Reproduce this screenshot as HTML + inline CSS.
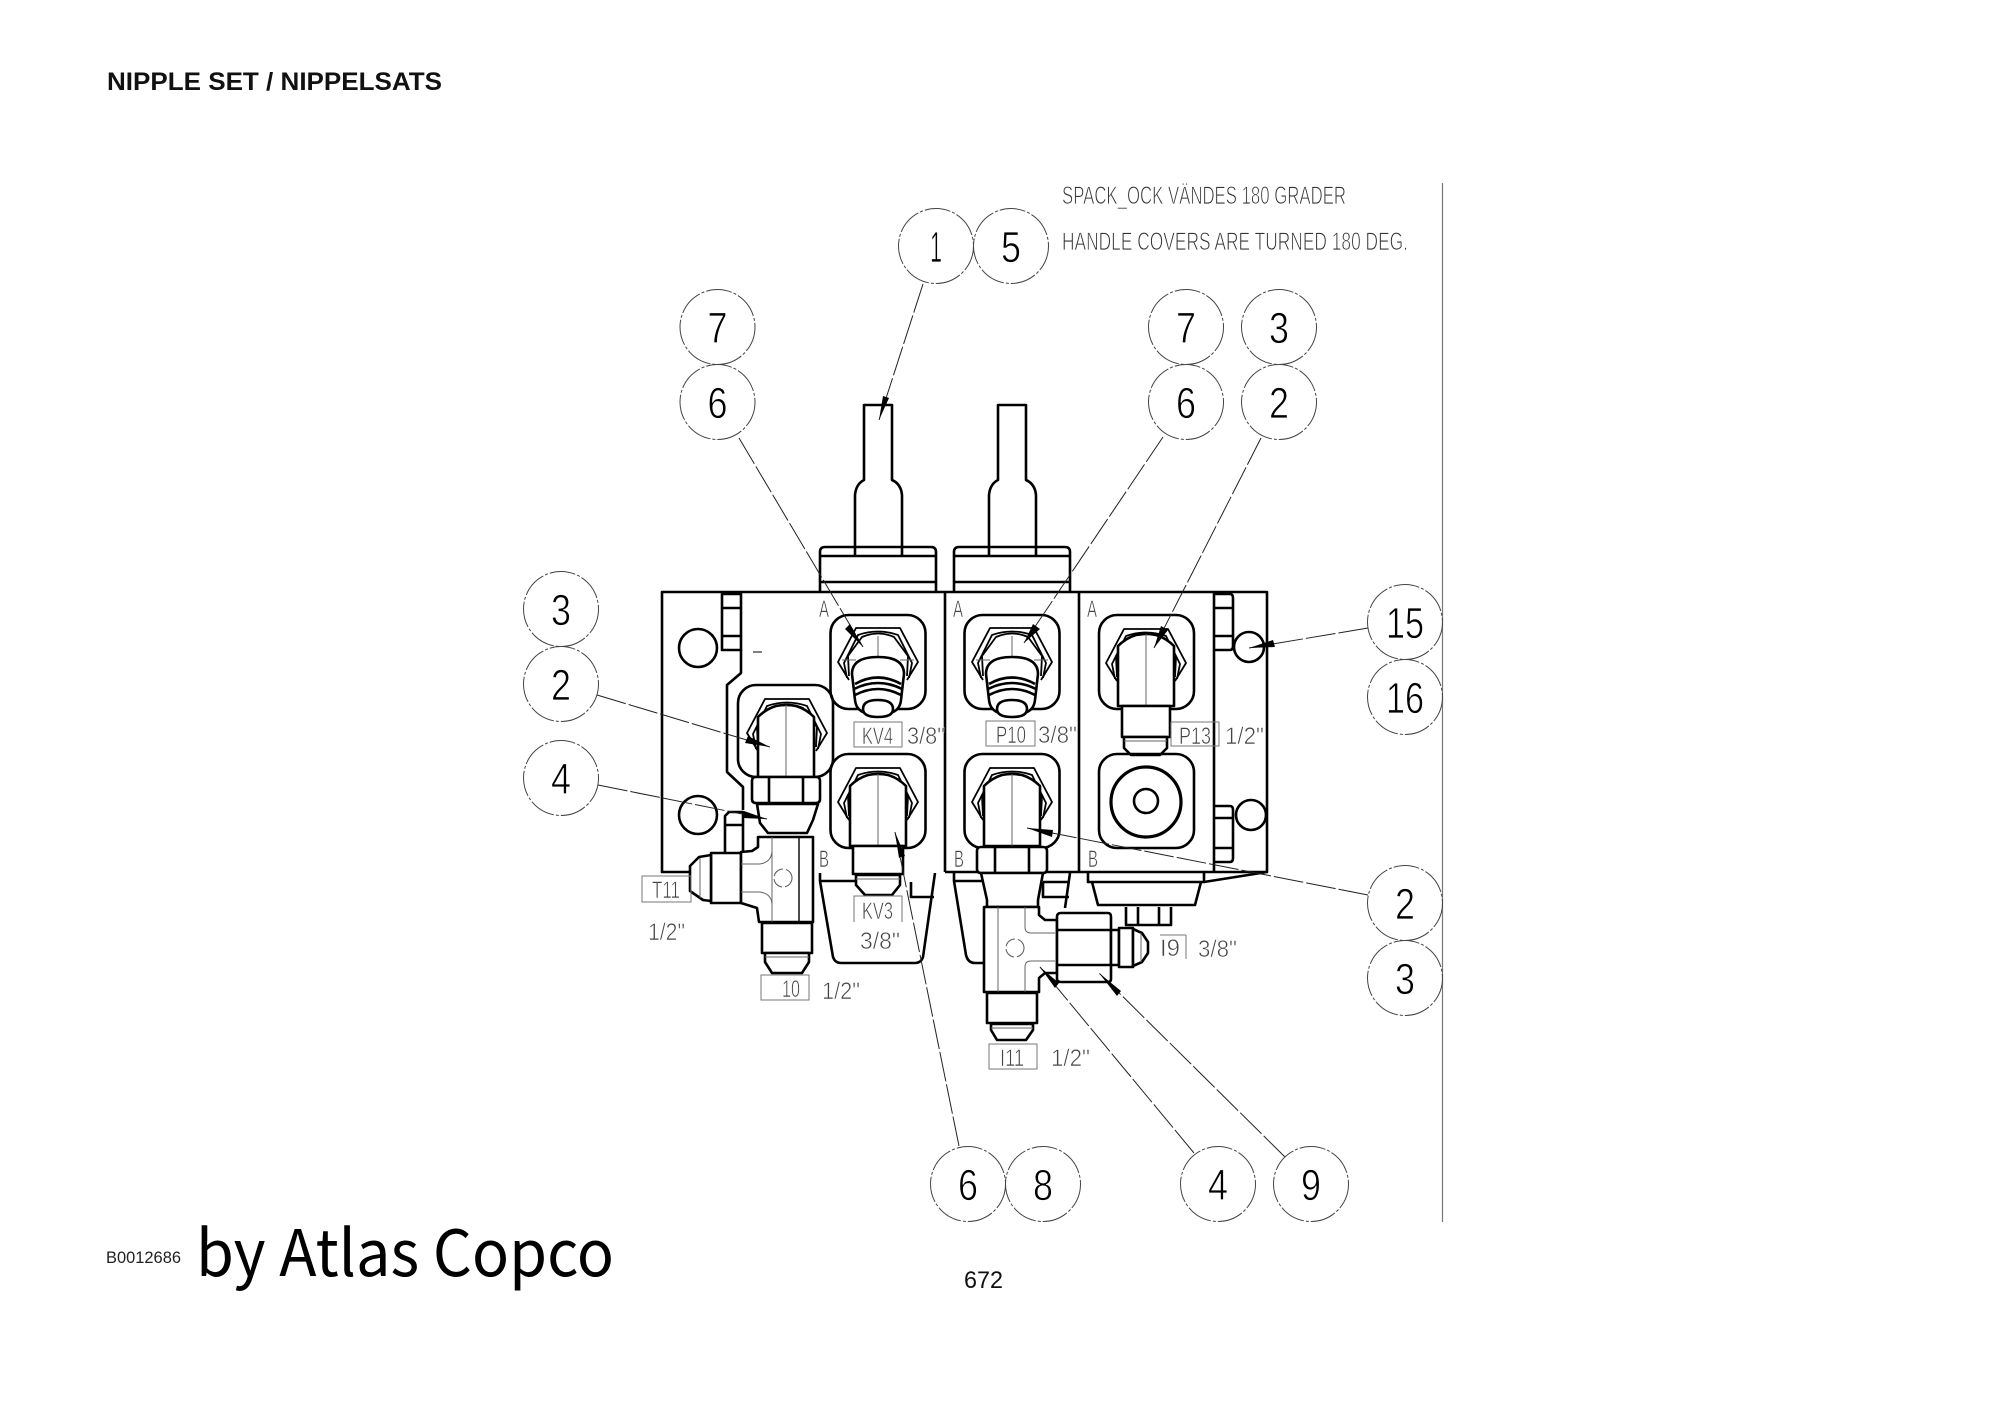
<!DOCTYPE html>
<html><head><meta charset="utf-8"><title>Nipple set</title>
<style>
html,body{margin:0;padding:0;background:#fff;width:2000px;height:1414px;overflow:hidden}
svg{display:block}
.o{fill:none;stroke:#000;stroke-width:2.6;stroke-linejoin:round}
.w{fill:#fff;stroke:#000;stroke-width:2.6;stroke-linejoin:round}
.h{fill:none;stroke:#000;stroke-width:1.8;stroke-linejoin:round}
.g{fill:none;stroke:#666;stroke-width:1}
.b{fill:none;stroke:#444;stroke-width:1;stroke-dasharray:26 2 3 2}
.l{fill:none;stroke:#222;stroke-width:1;stroke-dasharray:30 3}
.n{font:44px "Liberation Sans",sans-serif;fill:#000;stroke:#fff;stroke-width:.8;text-anchor:middle}
.c{font:25px "Liberation Sans",sans-serif;fill:#333;stroke:#fff;stroke-width:.8}
.t{font:24px "Liberation Sans",sans-serif;fill:#444;stroke:#fff;stroke-width:.6}
.box{fill:none;stroke:#777;stroke-width:1}
</style></head><body>
<svg width="2000" height="1414" viewBox="0 0 2000 1414" xmlns="http://www.w3.org/2000/svg">
<defs>
<g id="pocket"><rect x="-47.5" y="-47" width="95" height="94" rx="18" class="o"/></g>
<g id="hex">
<path class="h" d="M-29,18 L-40,0 L-22,-34 H22 L40,0 L29,18"/>
<path class="h" d="M-31,16 L-34,1 L-20,-27 Q0,-34 20,-27 L34,1 L31,16"/>
<path class="h" d="M-29,14 L-30,-6 L-16,-25 Q0,-32 16,-25 L30,-6 L29,14"/>
</g>
<g id="plug">
<path class="g" d="M0,-26 V-5 M-36,-2 H-22 M22,-2 H36"/>
<path class="w" d="M-26,12 Q-26,-5 0,-5 Q26,-5 26,12 L23,38 Q22,47 15,50 H-15 Q-22,47 -23,38 Z"/>
<path class="o" d="M-23,22 Q0,9 23,22 M-24,27 Q0,15 24,27 M-23,33 Q0,21 23,33"/>
<path class="w" d="M-15,47 Q-15,55 0,55 Q15,55 15,47 Q15,38 0,38 Q-15,38 -15,47 Z"/>
</g>
<g id="body"><path class="w" d="M-28,46 V-14 Q-20,-22 -10,-25 Q0,-27 10,-25 Q20,-22 28,-14 V46 Z"/><path class="g" d="M0,-26 V46"/></g>
</defs>
<rect width="2000" height="1414" fill="#fff"/>

<!-- title -->
<text x="107" y="90" font-family="'Liberation Sans',sans-serif" font-weight="700" font-size="25" fill="#111" textLength="335" lengthAdjust="spacingAndGlyphs">NIPPLE SET / NIPPELSATS</text>
<text x="106" y="1263" font-family="'Liberation Sans',sans-serif" font-size="17" fill="#222" textLength="75" lengthAdjust="spacingAndGlyphs">B0012686</text>
<text x="196" y="1276" font-family="'Noto Sans CJK JP','DejaVu Sans',sans-serif" font-size="64" fill="#000" textLength="418" lengthAdjust="spacingAndGlyphs">by Atlas Copco</text>
<text x="964" y="1288" font-family="'Liberation Sans',sans-serif" font-size="24" fill="#111" textLength="39" lengthAdjust="spacingAndGlyphs">672</text>

<!-- notes -->
<text class="c" x="1062" y="204" textLength="284" lengthAdjust="spacingAndGlyphs">SPACK_OCK VÄNDES 180 GRADER</text>
<text class="c" x="1062" y="250" textLength="346" lengthAdjust="spacingAndGlyphs">HANDLE COVERS ARE TURNED 180 DEG.</text>
<path d="M1442.5,183 V1222" stroke="#777" stroke-width="1.2" fill="none"/>

<!-- handles -->
<path class="o" d="M820,592 V552 Q820,547 825,547 H931 Q936,547 936,552 V592 M820,556 H936 M820,582 H936"/>
<path class="o" d="M954,592 V552 Q954,547 959,547 H1065 Q1070,547 1070,552 V592 M954,556 H1070 M954,582 H1070"/>
<path class="o" d="M855,556 V495 Q856,484 864,480 V405 H892 V480 Q901,484 902,495 V556"/>
<path class="o" d="M989,556 V495 Q990,484 998,480 V405 H1026 V480 Q1035,484 1036,495 V556"/>

<!-- lower covers -->
<path class="o" d="M820,873 V881 L833,957 Q835,963 841,963 H915 Q921,963 923,957 L935,873 M820,881 H855 M911,882 V897 H934"/>
<path class="o" d="M954,873 V881 L966,955 Q968,963 975,963 H984 M954,881 H985 M1070,873 L1065,908 M1043,882 V897 H1069 M1043,882 H1070"/>
<path class="o" d="M1088,873 V882 H1204 V873"/>
<path class="o" d="M1092,882 L1098,905 H1195 L1201,882"/>
<path class="o" d="M1126,907 V925 H1171 V907 M1138,907 V925 M1159,907 V925"/>
<path class="o" d="M1204,882 L1267,872"/>

<!-- main block -->
<path class="o" d="M741,872 H662 V592 H1267 V872 H1214 M945,592 V872 M1079,592 V872 M1214,592 V872 M945,872 H1214"/>
<circle class="o" cx="698" cy="648" r="19"/>
<circle class="o" cx="698" cy="815" r="19"/>
<circle class="o" cx="1249" cy="647" r="15"/>
<circle class="o" cx="1251" cy="815" r="15"/>
<path class="o" d="M722,594 H741 V650 H722 Z M722,608 H741 M722,636 H741"/>
<path class="o" d="M725,852 V816 L729,812 H743 V852 M725,825 H743"/>
<path class="o" d="M1214,594 H1230 Q1233,594 1233,598 V646 Q1233,650 1230,650 H1214 M1214,608 H1233 M1214,636 H1233"/>
<path class="o" d="M1214,806 H1230 Q1233,806 1233,810 V858 Q1233,862 1230,862 H1214 M1214,818 H1233 M1214,848 H1233"/>
<path class="o" d="M741,650 V673 L727,685 V772 L743,787 V810"/>
<path d="M753,652 H762" stroke="#555" stroke-width="1.5"/>

<!-- ports upper row -->
<use href="#pocket" x="878" y="662"/>
<use href="#pocket" x="1012" y="662"/>
<use href="#pocket" x="1146.5" y="662"/>
<use href="#hex" x="878" y="662"/>
<use href="#hex" x="1012" y="662"/>
<use href="#hex" x="1146" y="663"/>
<use href="#plug" x="878" y="662"/>
<use href="#plug" x="1012" y="662"/>
<use href="#body" x="1146" y="660"/>
<path class="w" d="M1122,706 H1170 V737 H1122 Z"/>
<path class="w" d="M1124,737 H1167 V748 L1160,755 H1131 L1124,748 Z"/>
<path class="g" d="M1124,741 H1167"/>

<!-- ports lower row -->
<use href="#pocket" x="878" y="801"/>
<use href="#pocket" x="1012" y="801"/>
<use href="#pocket" x="1146.5" y="801"/>
<circle cx="1146" cy="802" r="35" fill="none" stroke="#000" stroke-width="3.2"/>
<circle class="o" cx="1146" cy="801" r="12"/>
<use href="#hex" x="878" y="802"/>
<use href="#hex" x="1012" y="802"/>
<use href="#body" x="878" y="800"/>
<use href="#body" x="1012" y="800"/>
<path class="w" d="M853,846 H903 V874 H853 Z"/>
<path class="w" d="M856,875 H900 V885 L892,895 H865 L856,885 Z"/>
<path class="g" d="M856,879 H900"/>

<!-- left fitting stack -->
<rect x="738" y="685" width="95" height="92" rx="18" class="o"/>
<use href="#hex" x="787" y="733"/>
<use href="#body" x="786" y="731"/>
<path class="w" d="M752,781 Q752,777 756,777 H816 Q820,777 820,781 V799 Q820,803 816,803 H756 Q752,803 752,799 Z M769,777 V803 M803,777 V803"/>
<path class="w" d="M757,804 H818 L813,820 L807,833 H768 L760,823 Z"/>
<path class="w" d="M711,853 H741 V903 H711 Z"/>
<path class="w" d="M711,855 L699,857 L690,866 V891 L703,900 L711,901 Z"/>
<path class="g" d="M700,858 V898"/>
<path class="w" d="M758,837 V847 L752,851 L741,852 V903 L757,908 L759,922 H813 V837 Z"/>
<path class="g" d="M772,837 V922 M741,864 H760 Q772,862 772,850 M741,892 H760 Q772,894 772,905"/>
<path d="M799,837 V922" stroke="#000" stroke-width="1.4"/>
<circle cx="783" cy="878" r="9" fill="none" stroke="#555" stroke-width="1" stroke-dasharray="12 3"/>
<path class="w" d="M762,923 H812 V953 H762 Z"/>
<path class="w" d="M765,953 H809 V962 L802,973 H772 L765,962 Z"/>
<path class="g" d="M765,957 H809"/>

<!-- centre fitting stack -->
<path class="w" d="M977,851 Q977,847 981,847 H1043 Q1047,847 1047,851 V869 Q1047,873 1043,873 H981 Q977,873 977,869 Z M995,847 V873 M1029,847 V873"/>
<path class="w" d="M981,873 H1043 L1038,900 V907 H987 V900 Z"/>
<path class="w" d="M984,907 H1039 V915 L1045,920 H1057 V973 H1045 L1039,978 V992 H984 Z"/>
<path class="g" d="M998,907 V992 M1025,907 V927 Q1025,933 1031,933 H1055 M1055,961 H1031 Q1025,961 1025,967 V992"/>
<circle cx="1015" cy="948" r="9" fill="none" stroke="#555" stroke-width="1" stroke-dasharray="12 3"/>
<path class="w" d="M1057,917 Q1057,913 1061,913 H1108 Q1111,913 1111,917 V979 Q1111,982 1108,982 H1061 Q1057,982 1057,979 Z M1057,930 H1111 M1057,965 H1111"/>
<path class="w" d="M1111,930 H1119 V965 H1111 Z"/>
<path class="w" d="M1119,928 H1133 V967 H1119 Z"/>
<path class="w" d="M1133,929 L1142,933 L1148,942 V953 L1142,962 L1133,966 Z"/>
<path class="g" d="M1141,933 V962"/>
<path class="w" d="M987,993 H1037 V1023 H987 Z"/>
<path class="w" d="M991,1024 H1033 V1030 L1026,1040 H997 L991,1030 Z"/>
<path class="g" d="M991,1028 H1033"/>

<!-- labels -->
<text class="t" x="819" y="617" textLength="10" lengthAdjust="spacingAndGlyphs">A</text>
<text class="t" x="953" y="617" textLength="10" lengthAdjust="spacingAndGlyphs">A</text>
<text class="t" x="1087" y="617" textLength="10" lengthAdjust="spacingAndGlyphs">A</text>
<text class="t" x="819" y="867" textLength="10" lengthAdjust="spacingAndGlyphs">B</text>
<text class="t" x="954" y="867" textLength="10" lengthAdjust="spacingAndGlyphs">B</text>
<text class="t" x="1088" y="867" textLength="10" lengthAdjust="spacingAndGlyphs">B</text>

<rect class="box" x="854" y="722" width="48" height="25"/>
<text class="t" x="862" y="744" textLength="31" lengthAdjust="spacingAndGlyphs">KV4</text>
<text class="t" x="907" y="744" textLength="38" lengthAdjust="spacingAndGlyphs">3/8"</text>
<rect class="box" x="986" y="721" width="49" height="25"/>
<text class="t" x="996" y="743" textLength="30" lengthAdjust="spacingAndGlyphs">P10</text>
<text class="t" x="1038" y="743" textLength="39" lengthAdjust="spacingAndGlyphs">3/8"</text>
<rect class="box" x="1171" y="722" width="48" height="24"/>
<text class="t" x="1179" y="744" textLength="32" lengthAdjust="spacingAndGlyphs">P13</text>
<text class="t" x="1225" y="744" textLength="39" lengthAdjust="spacingAndGlyphs">1/2"</text>
<path class="box" d="M854,922 V896 H902 V922"/>
<text class="t" x="862" y="919" textLength="31" lengthAdjust="spacingAndGlyphs">KV3</text>
<text class="t" x="860" y="949" textLength="40" lengthAdjust="spacingAndGlyphs">3/8"</text>
<rect class="box" x="642" y="876" width="49" height="26"/>
<text class="t" x="652" y="898" textLength="28" lengthAdjust="spacingAndGlyphs">T11</text>
<text class="t" x="648" y="940" textLength="37" lengthAdjust="spacingAndGlyphs">1/2"</text>
<rect class="box" x="761" y="975" width="48" height="25"/>
<text class="t" x="782" y="997" textLength="18" lengthAdjust="spacingAndGlyphs">10</text>
<text class="t" x="822" y="999" textLength="38" lengthAdjust="spacingAndGlyphs">1/2"</text>
<path class="box" d="M1186,935 V959 M1160,935 H1186"/>
<text class="t" x="1160" y="956" textLength="20" lengthAdjust="spacingAndGlyphs">I9</text>
<text class="t" x="1198" y="957" textLength="39" lengthAdjust="spacingAndGlyphs">3/8"</text>
<rect class="box" x="989" y="1044" width="48" height="25"/>
<text class="t" x="1000" y="1066" textLength="24" lengthAdjust="spacingAndGlyphs">I11</text>
<text class="t" x="1051" y="1066" textLength="39" lengthAdjust="spacingAndGlyphs">1/2"</text>

<!-- leaders -->
<path class="l" d="M923,284 L879,420"/>
<path class="l" d="M739,438 L863,647"/>
<path class="l" d="M1163,437 L1024,643"/>
<path class="l" d="M1261,438 L1154,648"/>
<path class="l" d="M1368,628 L1249,648"/>
<path class="l" d="M597,695 L770,747"/>
<path class="l" d="M598,785 L767,819"/>
<path class="l" d="M1368,895 L1027,828"/>
<path class="l" d="M959,1146 L895,832"/>
<path class="l" d="M1194,1153 L1040,967"/>
<path class="l" d="M1285,1157 L1099,973"/>
<!-- arrowheads -->
<g fill="#000">
<polygon points="879,420 889,398 883,396"/>
<polygon points="863,647 850,624 845,629"/>
<polygon points="1024,643 1040,629 1033,624"/>
<polygon points="1154,648 1168,630 1161,626"/>
<polygon points="1249,648 1275,647 1273,640"/>
<polygon points="770,747 748,736 745,743"/>
<polygon points="767,819 744,811 743,818"/>
<polygon points="1027,828 1052,837 1053,830"/>
<polygon points="895,832 905,856 899,858"/>
<polygon points="1040,967 1059,983 1055,988"/>
<polygon points="1099,973 1121,991 1117,996"/>
</g>

<!-- balloons -->
<g>
<circle class="b" cx="936" cy="246" r="37.5"/><text class="n" x="936" y="262" textLength="12" lengthAdjust="spacingAndGlyphs">1</text>
<circle class="b" cx="1011" cy="246" r="37.5"/><text class="n" x="1011" y="262" textLength="20" lengthAdjust="spacingAndGlyphs">5</text>
<circle class="b" cx="717.5" cy="327" r="37.5"/><text class="n" x="717.5" y="343" textLength="20" lengthAdjust="spacingAndGlyphs">7</text>
<circle class="b" cx="717.5" cy="402" r="37.5"/><text class="n" x="717.5" y="418" textLength="20" lengthAdjust="spacingAndGlyphs">6</text>
<circle class="b" cx="1186" cy="327" r="37.5"/><text class="n" x="1186" y="343" textLength="20" lengthAdjust="spacingAndGlyphs">7</text>
<circle class="b" cx="1186" cy="402" r="37.5"/><text class="n" x="1186" y="418" textLength="20" lengthAdjust="spacingAndGlyphs">6</text>
<circle class="b" cx="1279" cy="327" r="37.5"/><text class="n" x="1279" y="343" textLength="20" lengthAdjust="spacingAndGlyphs">3</text>
<circle class="b" cx="1279" cy="402" r="37.5"/><text class="n" x="1279" y="418" textLength="20" lengthAdjust="spacingAndGlyphs">2</text>
<circle class="b" cx="561" cy="609" r="37.5"/><text class="n" x="561" y="625" textLength="20" lengthAdjust="spacingAndGlyphs">3</text>
<circle class="b" cx="561" cy="684" r="37.5"/><text class="n" x="561" y="700" textLength="20" lengthAdjust="spacingAndGlyphs">2</text>
<circle class="b" cx="561" cy="778" r="37.5"/><text class="n" x="561" y="794" textLength="20" lengthAdjust="spacingAndGlyphs">4</text>
<circle class="b" cx="1405" cy="622" r="37.5"/><text class="n" x="1405" y="638" textLength="38" lengthAdjust="spacingAndGlyphs">15</text>
<circle class="b" cx="1405" cy="697" r="37.5"/><text class="n" x="1405" y="713" textLength="38" lengthAdjust="spacingAndGlyphs">16</text>
<circle class="b" cx="1405" cy="903" r="37.5"/><text class="n" x="1405" y="919" textLength="20" lengthAdjust="spacingAndGlyphs">2</text>
<circle class="b" cx="1405" cy="978" r="37.5"/><text class="n" x="1405" y="994" textLength="20" lengthAdjust="spacingAndGlyphs">3</text>
<circle class="b" cx="968" cy="1184" r="37.5"/><text class="n" x="968" y="1200" textLength="20" lengthAdjust="spacingAndGlyphs">6</text>
<circle class="b" cx="1043" cy="1184" r="37.5"/><text class="n" x="1043" y="1200" textLength="20" lengthAdjust="spacingAndGlyphs">8</text>
<circle class="b" cx="1218" cy="1184" r="37.5"/><text class="n" x="1218" y="1200" textLength="20" lengthAdjust="spacingAndGlyphs">4</text>
<circle class="b" cx="1311" cy="1184" r="37.5"/><text class="n" x="1311" y="1200" textLength="20" lengthAdjust="spacingAndGlyphs">9</text>
</g>
</svg>
</body></html>
